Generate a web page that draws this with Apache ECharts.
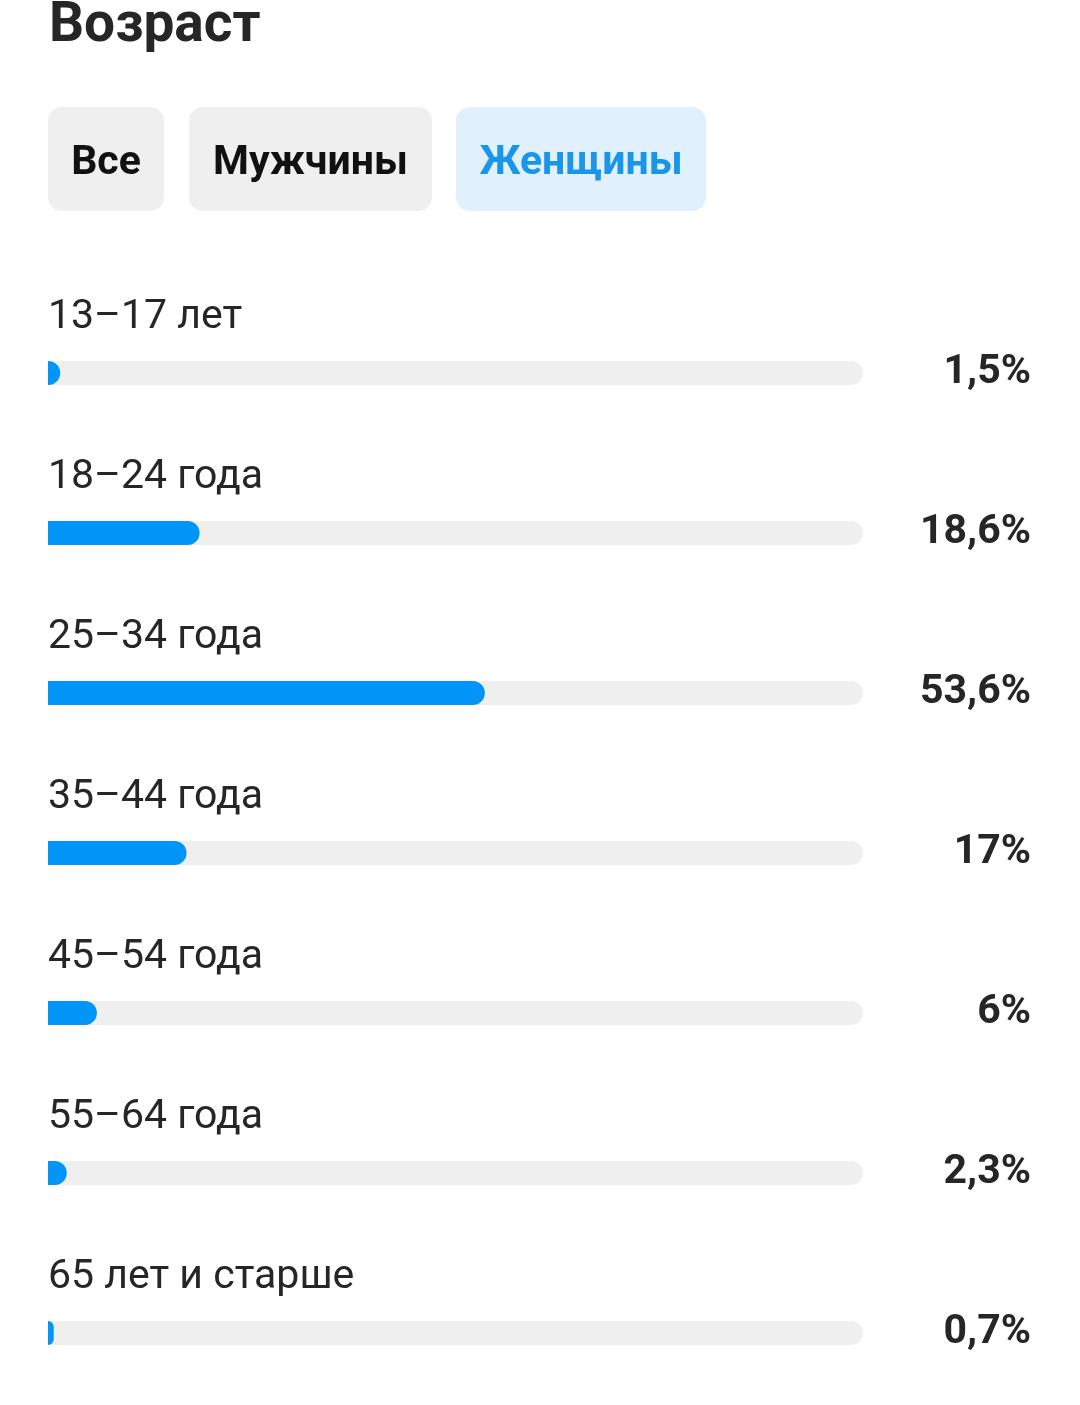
<!DOCTYPE html>
<html><head><meta charset="utf-8">
<style>html,body{margin:0;padding:0;background:#fff;}#c{width:1080px;height:1405px;}</style>
<script src="https://cdn.jsdelivr.net/npm/echarts@6/dist/echarts.min.js"></script>
</head><body><div id="c"></div>
<script>
const titleText = 'Возраст';
const tabs = ['Все', 'Мужчины', 'Женщины'];
const categories = ['13–17 лет', '18–24 года', '25–34 года', '35–44 года', '45–54 года', '55–64 года', '65 лет и старше'];
const values = [1.5, 18.6, 53.6, 17, 6, 2.3, 0.7];
const valueLabels = values.map(v => String(v).replace('.', ',') + '%');

const FONT = 'Roboto, "Noto Sans", sans-serif';
const chart = echarts.init(document.getElementById('c'), null, {renderer: 'canvas'});

const tabBoxes = [[48, 116], [189, 243], [456, 250]];
const graphics = [];
tabs.forEach((t, i) => {
  const active = i === 2;
  graphics.push({
    type: 'rect', left: tabBoxes[i][0], top: 107,
    shape: {width: tabBoxes[i][1], height: 104, r: 14},
    style: {fill: active ? '#e0f1fd' : '#efefef'}
  });
  graphics.push({
    type: 'text', x: tabBoxes[i][0] + tabBoxes[i][1] / 2, y: 164,
    style: {text: t, fill: active ? '#1a95ea' : '#111111', font: 'bold 41px ' + FONT, align: 'center', verticalAlign: 'middle'}
  });
});

chart.setOption({
  backgroundColor: '#ffffff',
  animation: false,
  title: {text: titleText, left: 44, top: -5, textStyle: {fontFamily: FONT, fontSize: 55, fontWeight: 'bold', color: '#262626'}},
  graphic: graphics,
  grid: {left: 48, top: 373, width: 815, height: 960, containLabel: false},
  xAxis: {type: 'value', min: 0, max: 100, show: false},
  yAxis: [
    {type: 'category', data: categories, inverse: true, show: false, boundaryGap: false},
    {type: 'category', data: valueLabels, inverse: true, position: 'right', boundaryGap: false,
     axisLine: {show: false}, axisTick: {show: false}, splitLine: {show: false},
     axisLabel: {align: 'right', margin: 168, fontFamily: FONT, fontSize: 41, fontWeight: 'bold', color: '#262626', padding: [0, 0, 8, 0]}}
  ],
  series: [{
    type: 'bar', data: values, barWidth: 24, yAxisIndex: 0,
    showBackground: true,
    backgroundStyle: {color: '#efefef', borderRadius: [0, 12, 12, 0]},
    itemStyle: {color: '#0095f6', borderRadius: [0, 12, 12, 0]},
    label: {show: true, position: [0, -43], align: 'left', verticalAlign: 'middle',
      formatter: p => categories[p.dataIndex],
      fontFamily: FONT, fontSize: 41, color: '#262626'}
  }]
});
</script></body></html>
